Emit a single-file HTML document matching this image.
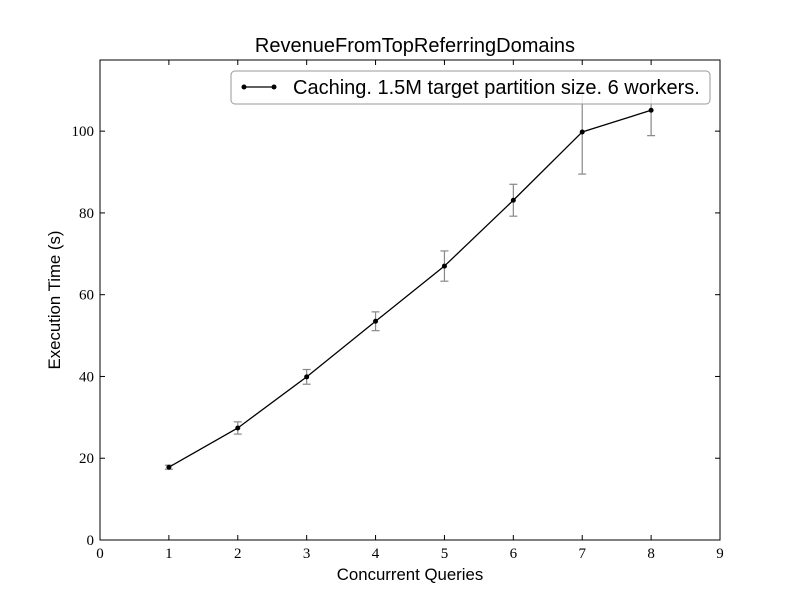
<!DOCTYPE html>
<html><head><meta charset="utf-8"><style>
body{margin:0;background:#fff;}
svg text{font-family:"Liberation Sans",sans-serif;}
.tk{font-family:"Liberation Serif",serif;font-size:15px;}
</style></head><body>
<svg width="800" height="600" id="c">
<rect width="800" height="600" fill="#fff"/>
<text x="415" y="52" text-anchor="middle" font-size="20">RevenueFromTopReferringDomains</text>
<text x="410" y="580" text-anchor="middle" font-size="16.8">Concurrent Queries</text>
<text x="60" y="300" text-anchor="middle" font-size="16.8" transform="rotate(-90 60 300)">Execution Time (s)</text>
<g id="ax"></g>
<g id="marks"></g>
<g>
<rect x="231" y="71" width="479" height="33" rx="4" fill="#fff" fill-opacity="0.8" stroke="#999"/>
<line x1="244" y1="87" x2="274" y2="87" stroke="#000" stroke-width="1.3"/>
<circle cx="244" cy="87" r="2.5"/><circle cx="274" cy="87" r="2.5"/>
<text x="293" y="94" font-size="20">Caching. 1.5M target partition size. 6 workers.</text>
</g>
<rect x="100" y="60" width="620" height="480" fill="none" stroke="#000"/>
</svg>
<script>
const xs=[1,2,3,4,5,6,7,8];
const ys=[17.8,27.4,39.9,53.5,67.0,83.1,99.8,105.1];
const errs=[0.5,1.5,1.8,2.3,3.7,3.9,10.3,6.2];
const xTicks=[0,1,2,3,4,5,6,7,8,9];
const yTicks=[0,20,40,60,80,100];
const L=100,R=720,T=60,B=540,XMAX=9,YMAX=117.4;
const X=v=>L+(R-L)*v/XMAX, Y=v=>B-(B-T)*v/YMAX;
const NS="http://www.w3.org/2000/svg";
function mk(t,a,p){const e=document.createElementNS(NS,t);for(const k in a)e.setAttribute(k,a[k]);p.appendChild(e);return e;}
const ax=document.getElementById('ax'),mg=document.getElementById('marks');
xTicks.forEach(v=>{const x=X(v);
mk('line',{x1:x,x2:x,y1:B,y2:B-5,stroke:'#000'},ax);mk('line',{x1:x,x2:x,y1:T,y2:T+5,stroke:'#000'},ax);
const t=mk('text',{x:x,y:B+18,'text-anchor':'middle',class:'tk'},ax);t.textContent=v;

});
yTicks.forEach(v=>{const y=Y(v);
mk('line',{x1:L,x2:L+5,y1:y,y2:y,stroke:'#000'},ax);mk('line',{x1:R,x2:R-5,y1:y,y2:y,stroke:'#000'},ax);
const t=mk('text',{x:L-6,y:y+5,'text-anchor':'end',class:'tk'},ax);t.textContent=v;

});
xs.forEach((v,i)=>{const x=X(v),y1=Y(ys[i]-errs[i]),y2=Y(ys[i]+errs[i]);
const g=mk('g',{stroke:'#888','stroke-width':1.2},mg);


mk('line',{x1:x,x2:x,y1:y1,y2:y2},g);mk('line',{x1:x-4,x2:x+4,y1:y1,y2:y1},g);mk('line',{x1:x-4,x2:x+4,y1:y2,y2:y2},g);});
const pl=mk('polyline',{points:xs.map((v,i)=>X(v)+','+Y(ys[i])).join(' '),fill:'none',stroke:'#000','stroke-width':1.3},mg);


xs.forEach((v,i)=>{const c=mk('circle',{cx:X(v),cy:Y(ys[i]),r:2.5,fill:'#000'},mg);

});
</script>
</body></html>
